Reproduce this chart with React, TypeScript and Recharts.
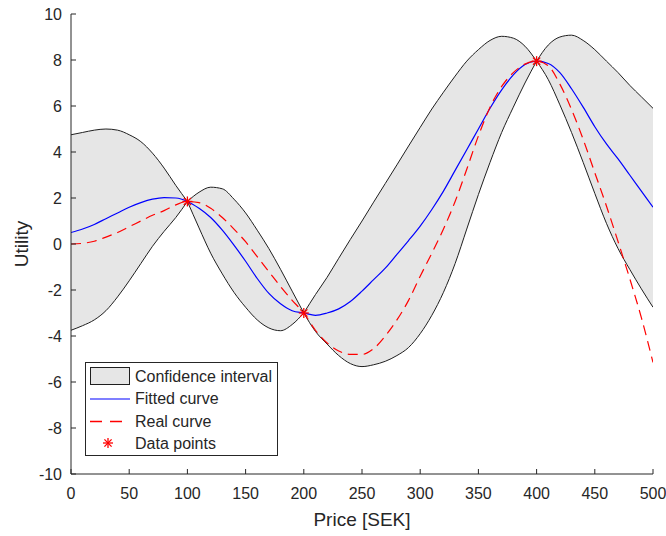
import React from 'react';
import { ComposedChart, Area, Line, Scatter, XAxis, YAxis } from 'recharts';

// price grid (SEK) and curves
const prices = [
  0, 10, 20, 30, 40, 50, 60, 70, 80, 90,
  100, 110, 120, 130, 140, 150, 160, 170, 180, 190,
  200, 210, 220, 230, 240, 250, 260, 270, 280, 290,
  300, 310, 320, 330, 340, 350, 360, 370, 380, 390,
  400, 410, 420, 430, 440, 450, 460, 470, 480, 490, 500,
];

const upperBound = [
  4.75, 4.85, 4.95, 5.0, 4.95, 4.75, 4.45, 3.95, 3.3, 2.55,
  1.85, 2.25, 2.47, 2.4, 1.95, 1.35, 0.6, -0.2, -1.1, -2.05,
  -3.0, -2.2, -1.45, -0.62, 0.2, 1.0, 1.82, 2.63, 3.44, 4.26,
  5.07, 5.87, 6.6, 7.3, 7.95, 8.45, 8.85, 9.03, 8.95, 8.6,
  7.95, 8.65, 9.0, 9.08, 8.85, 8.45, 7.95, 7.45, 6.9, 6.4, 5.9,
];

const lowerBound = [
  -3.75, -3.55, -3.3, -2.9, -2.3, -1.6, -0.85, -0.1, 0.55, 1.15,
  1.85, 0.7, -0.4, -1.3, -2.1, -2.75, -3.3, -3.65, -3.77, -3.5,
  -3.0, -3.8, -4.35, -4.85, -5.2, -5.33, -5.25, -5.1, -4.85, -4.5,
  -3.9, -3.1, -2.1, -0.85, 0.65, 2.15, 3.55, 4.85, 5.95, 7.0,
  7.95, 7.15, 6.05, 4.85, 3.55, 2.2, 0.9, -0.2, -1.1, -1.95, -2.75,
];

const fittedCurve = [
  0.5, 0.65, 0.85, 1.1, 1.35, 1.6, 1.8, 1.95, 2.02, 2.0,
  1.85, 1.55, 1.15, 0.6, -0.05, -0.75, -1.5, -2.15, -2.6, -2.9,
  -3.0, -3.1, -3.0, -2.82, -2.5, -2.05, -1.55, -1.05, -0.45, 0.15,
  0.78, 1.5, 2.3, 3.2, 4.1, 5.0, 5.9, 6.7, 7.35, 7.8,
  7.95, 7.85, 7.45, 6.75, 5.95, 5.1, 4.35, 3.7, 3.0, 2.3, 1.6,
];

const realCurve = [
  0, 0.03, 0.12, 0.3, 0.5, 0.75, 1.0, 1.25, 1.45, 1.7,
  1.85, 1.8, 1.55, 1.15, 0.65, 0.1, -0.55, -1.2, -1.85, -2.45,
  -3.0, -3.75, -4.3, -4.65, -4.8, -4.8, -4.55, -4.0, -3.3, -2.45,
  -1.4, -0.4, 0.65, 1.85, 3.25, 4.7, 5.95, 6.85, 7.45, 7.82,
  7.95, 7.75, 6.95, 5.85, 4.55, 3.1, 1.65, 0.1, -1.5, -3.2, -5.15,
];

const samplePrices = [100, 200, 400];
const sampleUtility = [1.85, -3.0, 7.95];

const xTicks = [0, 50, 100, 150, 200, 250, 300, 350, 400, 450, 500];
const yTicks = [-10, -8, -6, -4, -2, 0, 2, 4, 6, 8, 10];

// the band pinches at each sample, so draw it piecewise to keep the kinks
const segmentEdges = [0, 100, 200, 400, 500];
const segments = segmentEdges.slice(0, -1).map((start, s) => ({ start, end: segmentEdges[s + 1], id: s }));

const chartData = prices.map((x, i) => {
  const row: any = { x, fitted: fittedCurve[i], real: realCurve[i] };
  segments.forEach(({ start, end, id }) => {
    const inside = x >= start && x <= end;
    row[`band${id}`] = inside ? [lowerBound[i], upperBound[i]] : null;
    row[`hi${id}`] = inside ? upperBound[i] : null;
    row[`lo${id}`] = inside ? lowerBound[i] : null;
  });
  return row;
});

const pointData = samplePrices.map((x, i) => ({ x, y: sampleUtility[i] }));

const axisColor = '#262626';
const bandFill = '#e6e6e6';
const bandEdge = '#1f1f1f';
const fittedColor = '#0000ff';
const realColor = '#ff0000';

const Asterisk = ({ cx, cy, r = 5 }: any) => {
  if (cx == null || cy == null) return null;
  const d = r * 0.72;
  return (
    <g stroke={realColor} strokeWidth={1.3}>
      <line x1={cx - r} y1={cy} x2={cx + r} y2={cy} />
      <line x1={cx} y1={cy - r} x2={cx} y2={cy + r} />
      <line x1={cx - d} y1={cy - d} x2={cx + d} y2={cy + d} />
      <line x1={cx - d} y1={cy + d} x2={cx + d} y2={cy - d} />
    </g>
  );
};

const LegendBox = () => (
  <svg width={195} height={96} style={{ position: 'absolute', left: 84, top: 361 }}>
    <rect x={1.5} y={1.5} width={192} height={93} fill="#fff" stroke={axisColor} strokeWidth={1} />
    <rect x={6.5} y={6.5} width={39} height={17} fill={bandFill} stroke={bandEdge} strokeWidth={1} />
    <path d="M6 38 H46" stroke={fittedColor} strokeWidth={1.2} fill="none" />
    <path d="M6 60.5 H46" stroke={realColor} strokeWidth={1.3} strokeDasharray="12 8" fill="none" />
    <Asterisk cx={24} cy={82} />
    {['Confidence interval', 'Fitted curve', 'Real curve', 'Data points'].map((t, i) => (
      <text key={t} x={51} y={15.5 + i * 22.3} fill={axisColor} fontSize={16} dominantBaseline="central">
        {t}
      </text>
    ))}
  </svg>
);

const App: React.FC = () => {
  return (
    <div style={{ position: 'absolute', left: 0, top: 0, width: 666, height: 536, background: '#fff', fontFamily: '"Liberation Sans", Arial, sans-serif' }}>
      <ComposedChart
        width={666}
        height={536}
        data={chartData}
        margin={{ top: 14, right: 13, bottom: 32, left: 21 }}
      >
        <XAxis
          dataKey="x"
          type="number"
          domain={[0, 500]}
          ticks={xTicks}
          interval={0}
          allowDataOverflow
          height={30}
          tickSize={-5}
          tickMargin={19}
          axisLine={{ stroke: axisColor }}
          tickLine={{ stroke: axisColor }}
          tick={{ fill: axisColor, fontSize: 16 }}
          label={{ value: 'Price [SEK]', position: 'bottom', offset: 9, fill: axisColor, fontSize: 19 }}
        />
        <XAxis
          xAxisId="top"
          orientation="top"
          dataKey="x"
          type="number"
          domain={[0, 500]}
          ticks={xTicks}
          interval={0}
          allowDataOverflow
          height={0}
          tickSize={-5}
          axisLine={{ stroke: axisColor }}
          tickLine={{ stroke: axisColor }}
          tickFormatter={() => ''}
        />
        <YAxis
          type="number"
          domain={[-10, 10]}
          ticks={yTicks}
          interval={0}
          allowDataOverflow
          width={50}
          tickSize={-5}
          tickMargin={14}
          axisLine={{ stroke: axisColor }}
          tickLine={{ stroke: axisColor }}
          tick={{ fill: axisColor, fontSize: 16 }}
          label={{ value: 'Utility', angle: -90, position: 'insideLeft', offset: 0, fill: axisColor, fontSize: 19, style: { textAnchor: 'middle' } }}
        />
        <YAxis
          yAxisId="right"
          orientation="right"
          type="number"
          domain={[-10, 10]}
          ticks={yTicks}
          interval={0}
          allowDataOverflow
          width={0}
          tickSize={-5}
          axisLine={{ stroke: axisColor }}
          tickLine={{ stroke: axisColor }}
          tickFormatter={() => ''}
        />

        {segments.map(({ id }) => (
          <Area
            key={`band${id}`}
            dataKey={`band${id}`}
            type="monotone"
            fill={bandFill}
            fillOpacity={1}
            stroke="none"
            dot={false}
            activeDot={false}
            isAnimationActive={false}
          />
        ))}
        {segments.map(({ id }) => (
          <Line key={`hi${id}`} dataKey={`hi${id}`} type="monotone" stroke={bandEdge} strokeWidth={1} dot={false} activeDot={false} isAnimationActive={false} />
        ))}
        {segments.map(({ id }) => (
          <Line key={`lo${id}`} dataKey={`lo${id}`} type="monotone" stroke={bandEdge} strokeWidth={1} dot={false} activeDot={false} isAnimationActive={false} />
        ))}

        <Line dataKey="fitted" type="monotone" stroke={fittedColor} strokeWidth={1.2} dot={false} activeDot={false} isAnimationActive={false} />
        <Line dataKey="real" type="monotone" stroke={realColor} strokeWidth={1.2} strokeDasharray="10 6" dot={false} activeDot={false} isAnimationActive={false} />
        <Scatter data={pointData} dataKey="y" shape={<Asterisk />} isAnimationActive={false} />
      </ComposedChart>
      <LegendBox />
    </div>
  );
};

export default App;
